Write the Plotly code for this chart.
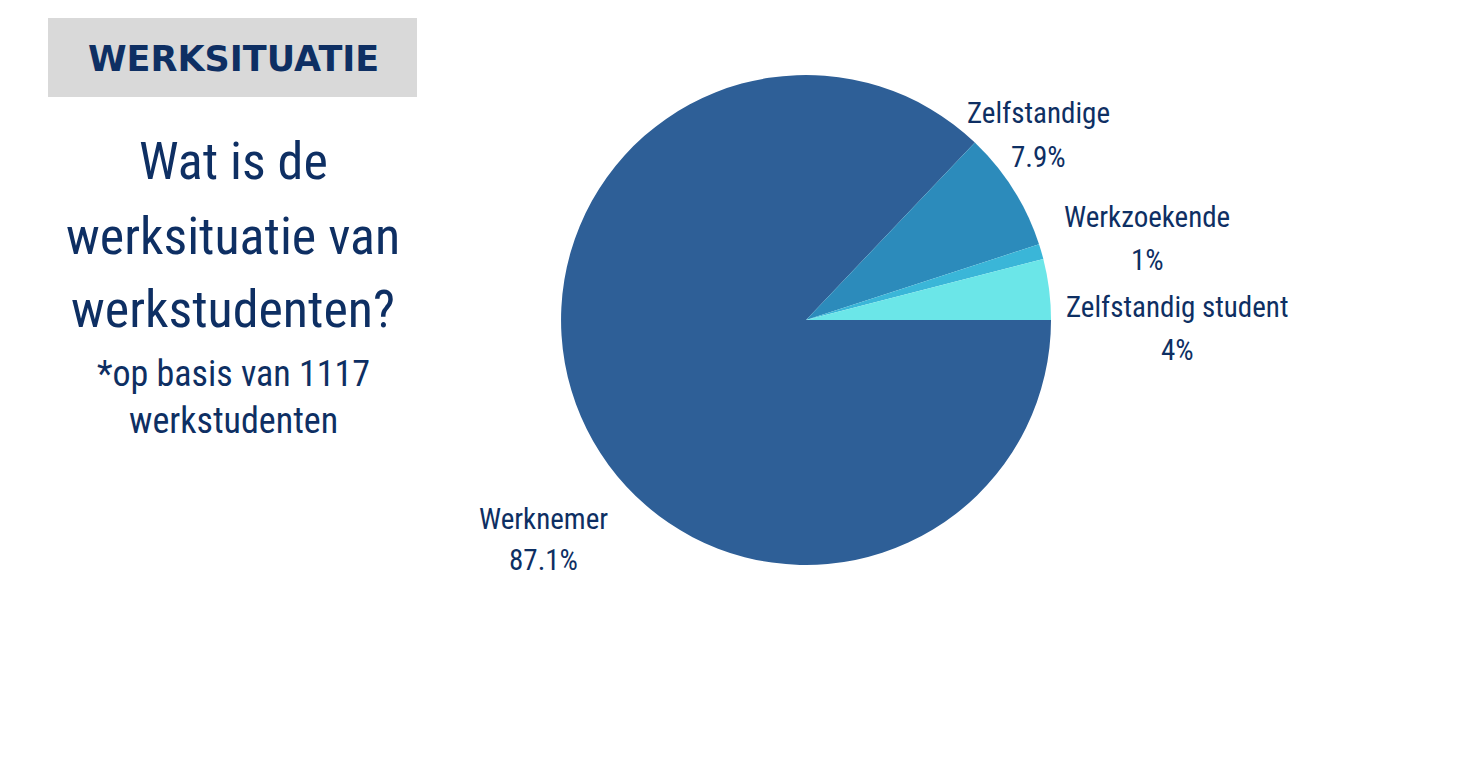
import plotly.graph_objects as go

# Werksituatie van werkstudenten (n = 1117)
labels = ["Werknemer", "Zelfstandige", "Werkzoekende", "Zelfstandig student"]
values = [87.1, 7.9, 1.0, 4.0]
pct_text = ["87.1%", "7.9%", "1%", "4%"]
colors = ["#2E5F97", "#2C8BBB", "#3AB6D8", "#6BE6E8"]

NAVY = "#0E2F63"
FONT = "Liberation Sans Narrow, Roboto Condensed, Noto Sans, sans-serif"
W, H = 1460, 758

# label spots (pixel centres of name line / value line), like the original layout
label_pos = [(535, 511, 552), (1030, 105, 149), (1139, 209, 252), (1169, 299, 342)]


def px(x, y):
    return x / W, 1 - y / H


fig = go.Figure()

fig.add_trace(
    go.Pie(
        labels=labels,
        values=values,
        textinfo="none",
        sort=False,
        direction="clockwise",
        rotation=90,
        marker=dict(colors=colors, line=dict(width=0)),
        hoverinfo="label+percent",
        showlegend=False,
        domain=dict(x=[0.3411, 0.7521], y=[0.2652, 0.9116]),
    )
)

# slice labels without connector lines
for name, pct, (lx, ly1, ly2) in zip(labels, pct_text, label_pos):
    for txt, ly in ((name, ly1), (pct, ly2)):
        ax, ay = px(lx, ly)
        fig.add_annotation(
            x=ax, y=ay, xref="paper", yref="paper",
            xanchor="center", yanchor="middle",
            text=txt, showarrow=False,
            font=dict(family=FONT, size=29, color=NAVY),
        )

# grey header box
x0, y1 = px(40, 10)
x1, y0 = px(409, 89)
fig.add_shape(
    type="rect", xref="paper", yref="paper",
    x0=x0, x1=x1, y0=y0, y1=y1,
    fillcolor="#D9D9D9", line=dict(width=0), layer="below",
)
hx, hy = px(225, 51)
fig.add_annotation(
    x=hx, y=hy, xref="paper", yref="paper",
    xanchor="center", yanchor="middle",
    text="<b>WERKSITUATIE</b>", showarrow=False,
    font=dict(family="DejaVu Sans, Lato, sans-serif", size=35, color=NAVY),
)

# question, one annotation per line to get the wide line spacing
for txt, ly in (("Wat is de", 154), ("werksituatie van", 228), ("werkstudenten?", 302)):
    ax, ay = px(225, ly)
    fig.add_annotation(
        x=ax, y=ay, xref="paper", yref="paper",
        xanchor="center", yanchor="middle",
        text=txt, showarrow=False,
        font=dict(family=FONT, size=52, color=NAVY),
    )

sx, sy = px(225, 389)
fig.add_annotation(
    x=sx, y=sy, xref="paper", yref="paper",
    xanchor="center", yanchor="middle",
    text="*op basis van 1117<br>werkstudenten",
    showarrow=False, align="center",
    font=dict(family=FONT, size=36, color=NAVY),
)

fig.update_layout(
    width=W,
    height=H,
    margin=dict(l=0, r=0, t=0, b=0),
    paper_bgcolor="white",
    plot_bgcolor="white",
)

fig.write_html("out.html")
